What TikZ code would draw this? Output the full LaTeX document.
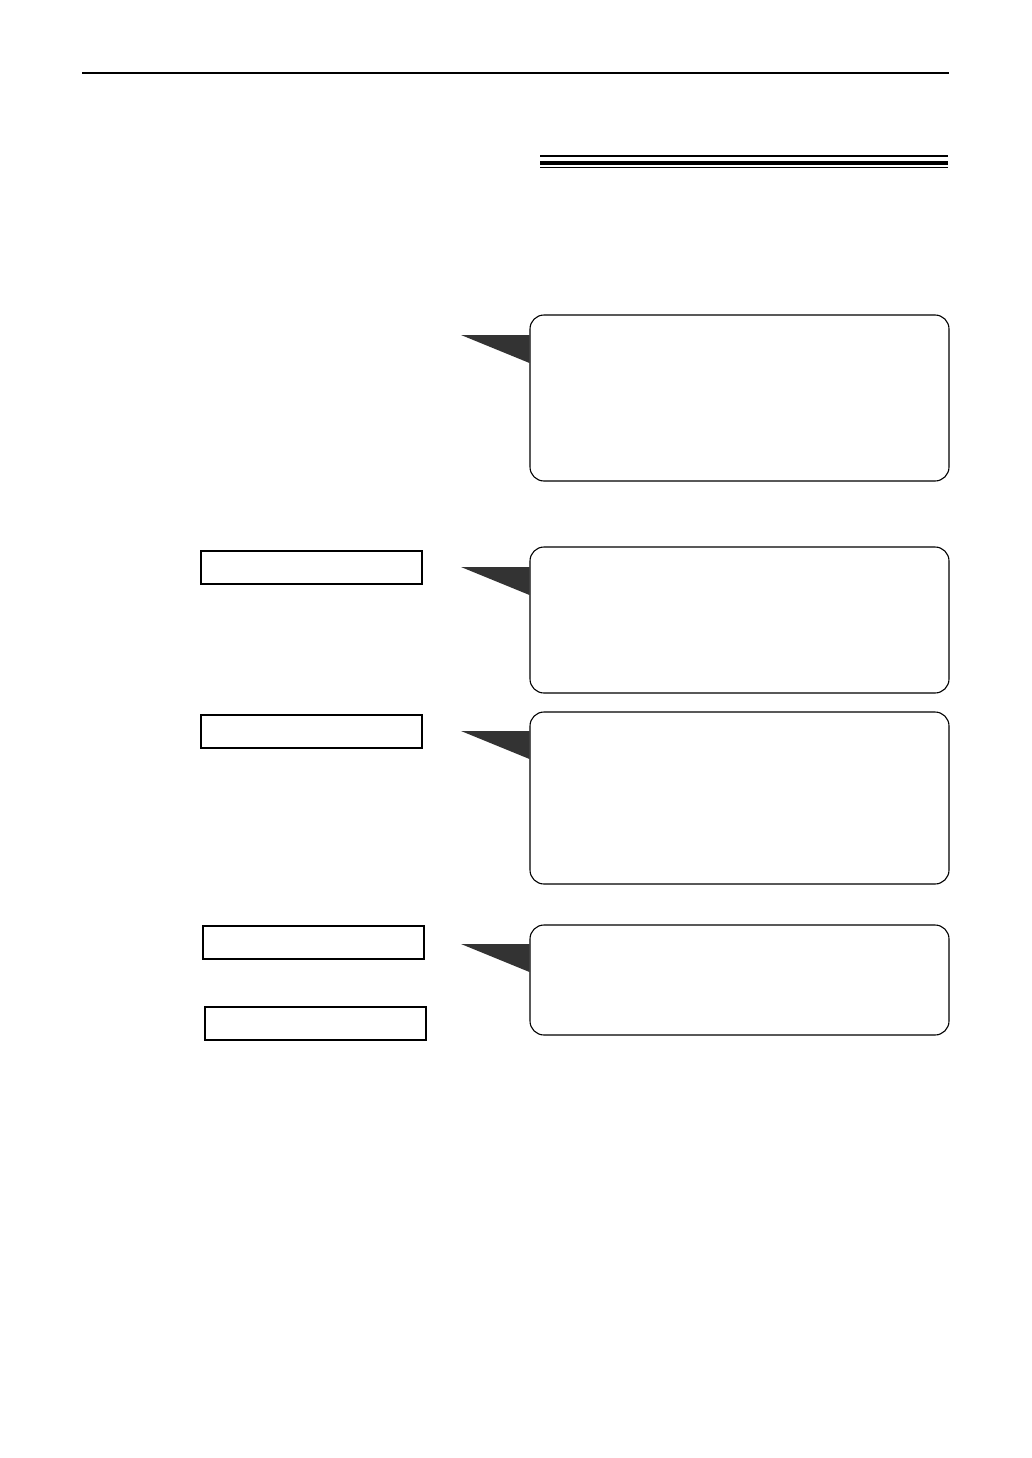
\documentclass[tikz,border=0pt]{standalone}
\usepackage{amsmath}
\usepackage{amssymb}
\usetikzlibrary{calc,backgrounds}
\begin{document}
\begin{tikzpicture}[x=1pt,y=-1pt]
  \tikzset{callout/.style = {shape=rectangle,rounded corners=14pt,draw,line width=1.1pt,fill=white,minimum width=419pt,inner sep=0pt}}
  \tikzset{keybox/.style = {shape=rectangle,draw,line width=1.4pt,minimum width=221pt,minimum height=33pt,inner sep=0pt}}
  \tikzset{pointer/.style = {fill=black!80,draw=none}}
  \useasboundingbox (0,0) rectangle (1032,1458);

  % header rules
  \draw[line width=2pt] (82,73) -- (949,73);
  \draw[line width=2pt] (540,156) -- (948,156);
  \draw[line width=4pt] (540,163) -- (948,163);
  \draw[line width=1.2pt] (540,167.5) -- (948,167.5);

  % key boxes
  \foreach \n/\x/\y in {1/311.5/567.5,2/311.5/731.5,3/313.5/942.5,4/315.5/1023.5}
    \node[keybox] (k\n) at (\x,\y) {};

  % callouts with pointers
  \foreach \n/\cy/\h/\ty in {1/398/166/335,2/620/146/567,3/798/172/731,4/980/110/944}{
    \node[callout,minimum height=\h pt] (c\n) at (739.5,\cy) {};
    \coordinate (tip\n) at (461,\ty);
    \begin{scope}[on background layer]
      \fill[pointer] (tip\n) -- (c\n.west |- tip\n) -- ($(c\n.west |- tip\n)+(0,28)$) -- cycle;
    \end{scope}
  }
\end{tikzpicture}
\end{document}
